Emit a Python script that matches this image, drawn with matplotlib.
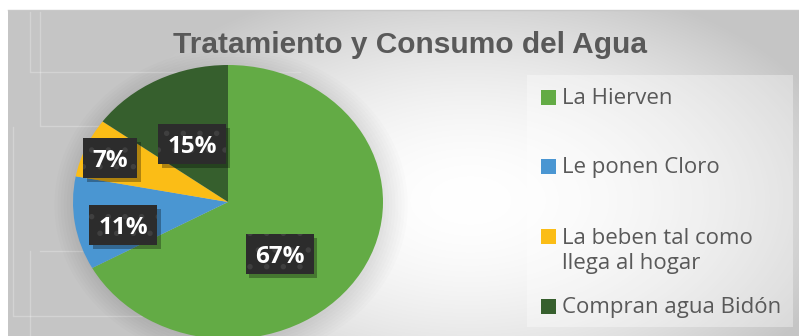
import numpy as np
import matplotlib.pyplot as plt
from matplotlib.patches import Rectangle, Ellipse
from matplotlib import transforms

# data
labels = ['La Hierven', 'Le ponen Cloro', 'La beben tal como\nllega al hogar', 'Compran agua Bidón']
values = [67, 11, 7, 15]
colors = ['#63ab45', '#4a96d2', '#fbbd16', '#365f2d']
title = 'Tratamiento y Consumo del Agua'

# label box positions in pie units (x, y)
label_pos = [(0.335, -0.38), (-0.677, -0.168), (-0.761, 0.321), (-0.232, 0.423)]
# legend row centres in pixels from top
legend_rows = [97, 166, 249, 306]

W, H = 799, 336
fig = plt.figure(figsize=(W / 100, H / 100), dpi=100)

def fx(px):
    return px / W

def fy(py):
    return 1 - py / H

# background with radial gradient
bg = fig.add_axes([fx(8), 0, 1 - fx(8), fy(10)])
bg.set_xlim(8, W)
bg.set_ylim(H, 10)
bg.axis('off')
xx, yy = np.meshgrid(np.arange(8, W), np.arange(10, H))
d = np.sqrt(((xx - 470) / 390.0) ** 2 + ((yy - 200) / 230.0) ** 2)
shade = 255 - 58 * np.clip(d, 0, 1) ** 1.8
img = np.dstack([shade, shade, shade]) / 255.0
bg.imshow(img, extent=(8, W, H, 10), aspect='auto', interpolation='bilinear')

# faint decorative frame lines on the left
line_kw = dict(color='white', alpha=0.25, lw=1)
bg.plot([30, 30, 300], [12, 72, 72], **line_kw)
bg.plot([40, 40, 300], [12, 126, 126], **line_kw)
bg.plot([13, 13, 200], [127, 316, 316], **line_kw)
bg.plot([30, 30], [251, H], **line_kw)
bg.plot([40, 200], [251, 251], **line_kw)
fig.add_artist(plt.Line2D([fx(8), 1], [fy(10), fy(10)], color='#c8c8c8', lw=1))

# pie, stretched a little wider than tall
rx, ry, cx, cy = 155, 137, 228, 202
ax = fig.add_axes([fx(cx - 1.2 * rx), fy(cy + 1.2 * ry), 2.4 * rx / W, 2.4 * ry / H])
for k in range(8):
    ax.add_patch(Ellipse((0.02, -0.02), 2 + 0.04 * k, 2 + 0.04 * k,
                         color='black', alpha=0.012, lw=0))
ax.pie(values, colors=colors, startangle=90, counterclock=False,
       wedgeprops=dict(linewidth=0))
ax.set_aspect('auto')
ax.set_xlim(-1.2, 1.2)
ax.set_ylim(-1.2, 1.2)
ax.axis('off')

# percentage labels on dark dotted boxes with a drop shadow
plt.rcParams['hatch.linewidth'] = 1.5
for v, (lx, ly) in zip(values, label_pos):
    txt = f'{v}%'
    bw, bh = (26 + 14 * len(txt)) / 100, 40 / 100
    anchor = fig.dpi_scale_trans + transforms.ScaledTranslation(lx, ly, ax.transData)
    ax.add_patch(Rectangle((-bw / 2 + 0.035, -bh / 2 - 0.035), bw, bh, transform=anchor,
                           fc='black', alpha=0.3, lw=0))
    ax.add_patch(Rectangle((-bw / 2, -bh / 2), bw, bh, transform=anchor,
                           fc='#2c2c2c', ec='#3f3f3f', lw=0, hatch='.'))
    ax.text(0, -0.03, txt, transform=anchor, ha='center', va='center', fontsize=17.5,
            fontweight='bold', family='Open Sans', color='white')

# title
fig.text(fx(410), fy(45), title, ha='center', va='center', fontsize=21.5,
         fontweight='bold', family='Liberation Sans', color='#595959')

# legend panel
fig.add_artist(Rectangle((fx(527), fy(327)), fx(793 - 527), (327 - 75) / H,
                         transform=fig.transFigure, fc='white', alpha=0.35, lw=0))
for lab, col, ry_ in zip(labels, colors, legend_rows):
    first = ry_ - 12.5 if '\n' in lab else ry_
    fig.add_artist(Rectangle((fx(541), fy(first + 7.5)), 15 / W, 15 / H,
                             transform=fig.transFigure, fc=col, lw=0))
    fig.text(fx(562), fy(ry_ + 1.5), lab, ha='left', va='center', fontsize=16,
             family='Open Sans', color='#595959', linespacing=1.25)

fig.savefig('out.png', dpi=100)
